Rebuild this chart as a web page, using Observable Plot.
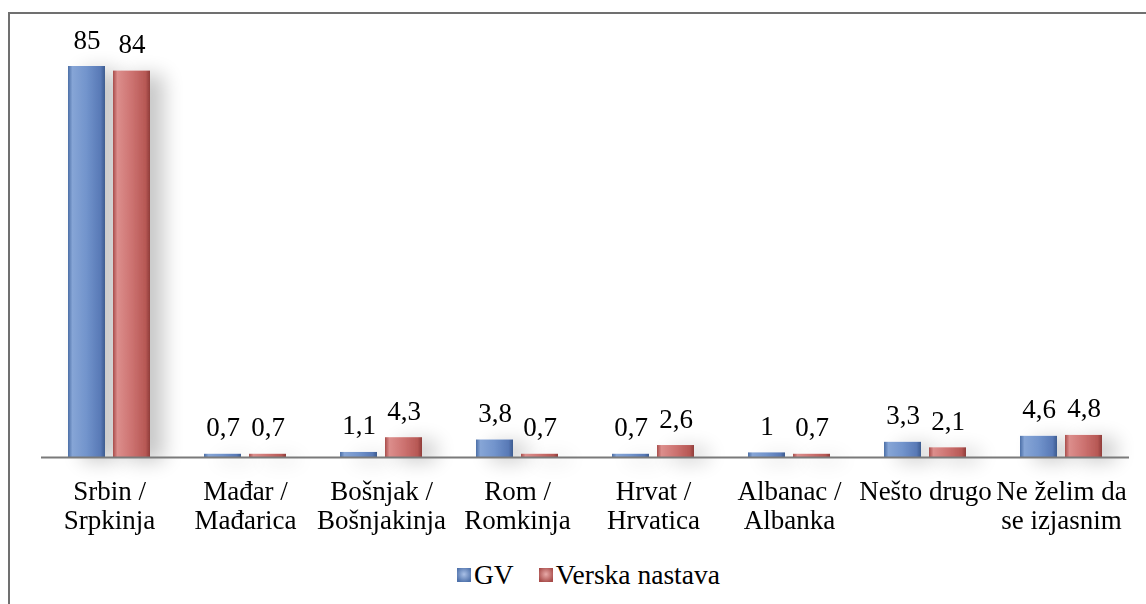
<!DOCTYPE html>
<html><head><meta charset="utf-8">
<script src="https://cdn.jsdelivr.net/npm/d3@7"></script>
<script src="https://cdn.jsdelivr.net/npm/@observablehq/plot@0.6"></script>
<style>
body{margin:0;background:#fff;}
#wrap{position:relative;width:1146px;height:604px;overflow:hidden;font-family:'Liberation Serif';}
#frame{position:absolute;left:8px;top:12px;width:1170px;height:650px;border:2px solid #707070;box-sizing:border-box;}
#chart{position:absolute;left:0;top:0;}
#legend{position:absolute;left:457px;top:560px;display:flex;align-items:center;font-size:27.5px;line-height:30px;color:#000;white-space:nowrap;font-family:'Liberation Serif';}
.sw{width:14px;height:14px;display:inline-block;margin-right:3px;}
.item{display:flex;align-items:center;margin-right:25px;}
</style></head>
<body><div id="wrap"><div id="frame"></div><div id="chart"></div><div id="legend"></div></div>
<script>
const categories = ["Srbin / Srpkinja","Mađar / Mađarica","Bošnjak / Bošnjakinja","Rom / Romkinja","Hrvat / Hrvatica","Albanac / Albanka","Nešto drugo","Ne želim da se izjasnim"];
const categoryLabels = ["Srbin /\nSrpkinja","Mađar /\nMađarica","Bošnjak /\nBošnjakinja","Rom /\nRomkinja","Hrvat /\nHrvatica","Albanac /\nAlbanka","Nešto drugo","Ne želim da\nse izjasnim"];
const series = ["GV","Verska nastava"];
const gvValues = [85, 0.7, 1.1, 3.8, 0.7, 1, 3.3, 4.6];
const verskaValues = [84, 0.7, 4.3, 0.7, 2.6, 0.7, 2.1, 4.8];
const seriesFills = ["url(#gBlue)","url(#gRed)"];
const legendCss = ["radial-gradient(circle at 50% 45%,#a9c0e6,#4f72ab 80%)","radial-gradient(circle at 50% 45%,#e8aaa8,#a84c4a 80%)"];

const data = categories.flatMap((c, i) => [
  {cat: c, series: series[0], value: gvValues[i]},
  {cat: c, series: series[1], value: verskaValues[i]}
]);
const labelData = categories.map((c, i) => ({cat: c, label: categoryLabels[i]}));
const fmt = v => String(v).replace(".", ",");
const FONT = "Liberation Serif";

const chart = Plot.plot({
  width: 1146, height: 560,
  marginLeft: 38, marginRight: 14, marginTop: 43, marginBottom: 103,
  fx: {domain: categories, paddingInner: 0, paddingOuter: 0, axis: null, label: null},
  x: {domain: series, paddingInner: 0.174, paddingOuter: 0.573, axis: null},
  y: {domain: [0, 90], axis: null},
  style: {fontFamily: FONT, fontSize: "27px", background: "transparent", color: "#000"},
  marks: [
    Plot.barY(data.filter(d => d.series === series[0]), {fx: "cat", x: "series", y: "value", fill: seriesFills[0]}),
    Plot.barY(data.filter(d => d.series === series[1]), {fx: "cat", x: "series", y: "value", fill: seriesFills[1]}),
    Plot.ruleY([0], {stroke: "#7a7a7a", strokeWidth: 2}),
    Plot.text(data, {fx: "cat", x: "series", y: "value", text: d => fmt(d.value), lineAnchor: "bottom", dy: -18, fill: "#000", fontSize: 27, fontFamily: FONT}),
    Plot.text(labelData, {fx: "cat", text: "label", frameAnchor: "bottom", lineAnchor: "top", dy: 22, lineHeight: 1.074, fill: "#000", fontSize: 27, fontFamily: FONT})
  ]
});

const svg = d3.select(chart);
svg.attr("font-family", FONT);
const defs = svg.insert("defs", ":first-child");
function grad(id, stops) {
  const g = defs.append("linearGradient").attr("id", id).attr("x1", 0).attr("x2", 1).attr("y1", 0).attr("y2", 0);
  stops.forEach(([o, c]) => g.append("stop").attr("offset", o).attr("stop-color", c));
}
grad("gBlue", [["0%","#4b6ea6"],["12%","#86a5d6"],["50%","#7294cc"],["88%","#5879b6"],["100%","#3c5b8f"]]);
grad("gRed", [["0%","#a84c4a"],["12%","#dc8e8c"],["50%","#cd7371"],["88%","#b75855"],["100%","#8f3c3a"]]);
const f = defs.append("filter").attr("id", "sh").attr("x", "-50%").attr("y", "-20%").attr("width", "250%").attr("height", "140%");
f.append("feGaussianBlur").attr("in", "SourceAlpha").attr("stdDeviation", 10).attr("result", "b");
f.append("feOffset").attr("in", "b").attr("dx", 14).attr("dy", 4).attr("result", "o");
const ct = f.append("feComponentTransfer").attr("in", "o").attr("result", "s");
ct.append("feFuncA").attr("type", "linear").attr("slope", 0.22);
const m = f.append("feMerge");
m.append("feMergeNode").attr("in", "s");
m.append("feMergeNode").attr("in", "SourceGraphic");
svg.selectAll('g[aria-label="bar"]').attr("filter", "url(#sh)");

document.getElementById("chart").appendChild(chart);

const legend = d3.select("#legend");
series.forEach((s, i) => {
  const it = legend.append("div").attr("class", "item");
  it.append("span").attr("class", "sw").style("background", legendCss[i]);
  it.append("span").text(s);
});
</script>
</body></html>
